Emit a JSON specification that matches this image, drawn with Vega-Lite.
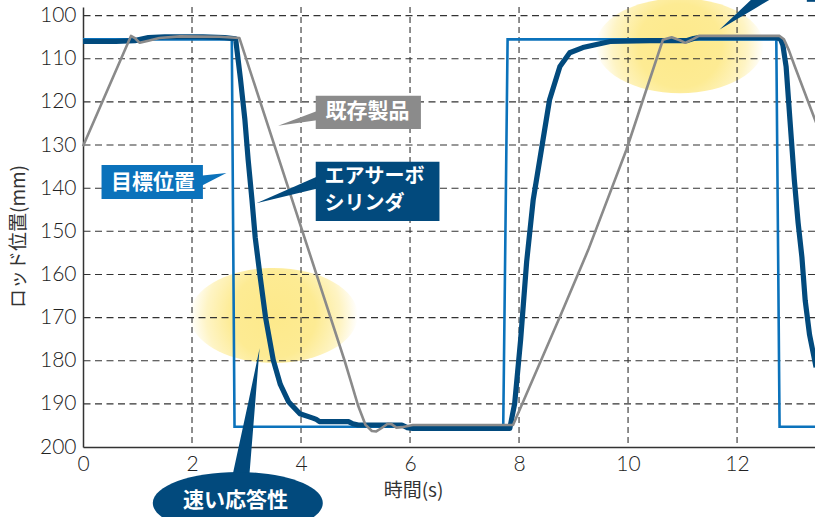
{
  "$schema": "https://vega.github.io/schema/vega-lite/v6.json",
  "width": 732,
  "height": 440,
  "autosize": {"type": "none"},
  "padding": {"left": 83, "top": 7, "right": 0, "bottom": 70},
  "background": "white",
  "config": {"view": {"stroke": null}},
  "datasets": {
    "lines": [
      {"series": "目標位置", "t": 0, "pos": 105.5},
      {"series": "目標位置", "t": 2.73, "pos": 105.5},
      {"series": "目標位置", "t": 2.78, "pos": 195.3},
      {"series": "目標位置", "t": 7.71, "pos": 195.3},
      {"series": "目標位置", "t": 7.79, "pos": 105.5},
      {"series": "目標位置", "t": 12.72, "pos": 105.5},
      {"series": "目標位置", "t": 12.78, "pos": 195.3},
      {"series": "目標位置", "t": 13.6, "pos": 195.3},

      {"series": "エアサーボシリンダ", "t": 0, "pos": 106.0},
      {"series": "エアサーボシリンダ", "t": 0.6, "pos": 106.0},
      {"series": "エアサーボシリンダ", "t": 0.95, "pos": 105.8},
      {"series": "エアサーボシリンダ", "t": 1.2, "pos": 105.1},
      {"series": "エアサーボシリンダ", "t": 1.5, "pos": 104.9},
      {"series": "エアサーボシリンダ", "t": 2.2, "pos": 104.9},
      {"series": "エアサーボシリンダ", "t": 2.6, "pos": 105.1},
      {"series": "エアサーボシリンダ", "t": 2.8, "pos": 105.4},
      {"series": "エアサーボシリンダ", "t": 2.89, "pos": 114.8},
      {"series": "エアサーボシリンダ", "t": 2.97, "pos": 124.1},
      {"series": "エアサーボシリンダ", "t": 3.03, "pos": 133.4},
      {"series": "エアサーボシリンダ", "t": 3.1, "pos": 142.7},
      {"series": "エアサーボシリンダ", "t": 3.16, "pos": 151.5},
      {"series": "エアサーボシリンダ", "t": 3.25, "pos": 160.5},
      {"series": "エアサーボシリンダ", "t": 3.35, "pos": 170.0},
      {"series": "エアサーボシリンダ", "t": 3.49, "pos": 179.8},
      {"series": "エアサーボシリンダ", "t": 3.62, "pos": 185.5},
      {"series": "エアサーボシリンダ", "t": 3.77, "pos": 189.5},
      {"series": "エアサーボシリンダ", "t": 3.98, "pos": 192.3},
      {"series": "エアサーボシリンダ", "t": 4.22, "pos": 193.3},
      {"series": "エアサーボシリンダ", "t": 4.28, "pos": 193.6},
      {"series": "エアサーボシリンダ", "t": 4.34, "pos": 194.1},
      {"series": "エアサーボシリンダ", "t": 4.87, "pos": 194.1},
      {"series": "エアサーボシリンダ", "t": 4.95, "pos": 194.6},
      {"series": "エアサーボシリンダ", "t": 5.05, "pos": 194.9},
      {"series": "エアサーボシリンダ", "t": 5.85, "pos": 194.9},
      {"series": "エアサーボシリンダ", "t": 5.95, "pos": 195.5},
      {"series": "エアサーボシリンダ", "t": 6.05, "pos": 195.7},
      {"series": "エアサーボシリンダ", "t": 7.83, "pos": 195.7},
      {"series": "エアサーボシリンダ", "t": 7.92, "pos": 189.9},
      {"series": "エアサーボシリンダ", "t": 8.03, "pos": 175.0},
      {"series": "エアサーボシリンダ", "t": 8.14, "pos": 157.0},
      {"series": "エアサーボシリンダ", "t": 8.26, "pos": 142.7},
      {"series": "エアサーボシリンダ", "t": 8.41, "pos": 131.1},
      {"series": "エアサーボシリンダ", "t": 8.56, "pos": 119.5},
      {"series": "エアサーボシリンダ", "t": 8.75, "pos": 111.8},
      {"series": "エアサーボシリンダ", "t": 8.93, "pos": 108.6},
      {"series": "エアサーボシリンダ", "t": 9.17, "pos": 107.4},
      {"series": "エアサーボシリンダ", "t": 9.67, "pos": 106.0},
      {"series": "エアサーボシリンダ", "t": 10.4, "pos": 105.8},
      {"series": "エアサーボシリンダ", "t": 11.07, "pos": 105.8},
      {"series": "エアサーボシリンダ", "t": 11.2, "pos": 105.3},
      {"series": "エアサーボシリンダ", "t": 11.3, "pos": 105.1},
      {"series": "エアサーボシリンダ", "t": 12.72, "pos": 105.1},
      {"series": "エアサーボシリンダ", "t": 12.8, "pos": 105.5},
      {"series": "エアサーボシリンダ", "t": 12.84, "pos": 106.8},
      {"series": "エアサーボシリンダ", "t": 12.9, "pos": 111.8},
      {"series": "エアサーボシリンダ", "t": 12.97, "pos": 124.1},
      {"series": "エアサーボシリンダ", "t": 13.05, "pos": 138.0},
      {"series": "エアサーボシリンダ", "t": 13.12, "pos": 148.0},
      {"series": "エアサーボシリンダ", "t": 13.19, "pos": 156.0},
      {"series": "エアサーボシリンダ", "t": 13.25, "pos": 166.0},
      {"series": "エアサーボシリンダ", "t": 13.33, "pos": 174.0},
      {"series": "エアサーボシリンダ", "t": 13.45, "pos": 181.5},

      {"series": "既存製品", "t": 0, "pos": 130.3},
      {"series": "既存製品", "t": 0.88, "pos": 104.7},
      {"series": "既存製品", "t": 0.96, "pos": 105.3},
      {"series": "既存製品", "t": 1.04, "pos": 106.3},
      {"series": "既存製品", "t": 1.2, "pos": 105.8},
      {"series": "既存製品", "t": 1.4, "pos": 105.2},
      {"series": "既存製品", "t": 1.78, "pos": 104.8},
      {"series": "既存製品", "t": 2.5, "pos": 104.9},
      {"series": "既存製品", "t": 2.87, "pos": 105.2},
      {"series": "既存製品", "t": 4.8, "pos": 180.0},
      {"series": "既存製品", "t": 4.92, "pos": 185.0},
      {"series": "既存製品", "t": 5.05, "pos": 190.5},
      {"series": "既存製品", "t": 5.18, "pos": 194.8},
      {"series": "既存製品", "t": 5.3, "pos": 196.3},
      {"series": "既存製品", "t": 5.38, "pos": 196.4},
      {"series": "既存製品", "t": 5.48, "pos": 195.6},
      {"series": "既存製品", "t": 5.59, "pos": 194.6},
      {"series": "既存製品", "t": 5.66, "pos": 194.7},
      {"series": "既存製品", "t": 5.75, "pos": 195.5},
      {"series": "既存製品", "t": 5.85, "pos": 195.4},
      {"series": "既存製品", "t": 6.05, "pos": 194.9},
      {"series": "既存製品", "t": 7.89, "pos": 194.9},
      {"series": "既存製品", "t": 8.75, "pos": 169.8},
      {"series": "既存製品", "t": 9.27, "pos": 154.3},
      {"series": "既存製品", "t": 9.97, "pos": 131.1},
      {"series": "既存製品", "t": 10.64, "pos": 105.6},
      {"series": "既存製品", "t": 10.8, "pos": 105.0},
      {"series": "既存製品", "t": 10.95, "pos": 105.7},
      {"series": "既存製品", "t": 11.05, "pos": 106.3},
      {"series": "既存製品", "t": 11.2, "pos": 105.4},
      {"series": "既存製品", "t": 11.3, "pos": 104.7},
      {"series": "既存製品", "t": 12.78, "pos": 104.7},
      {"series": "既存製品", "t": 12.86, "pos": 105.5},
      {"series": "既存製品", "t": 12.95, "pos": 108.0},
      {"series": "既存製品", "t": 13.06, "pos": 111.8},
      {"series": "既存製品", "t": 13.36, "pos": 121.8},
      {"series": "既存製品", "t": 13.45, "pos": 124.8}
    ],
    "glow": [
      {"spot": "速い応答性", "t": 3.5, "pos": 169.5},
      {"spot": "安定性", "t": 10.95, "pos": 107.0}
    ],
    "gridH": [
      {"pos": 100}, {"pos": 110}, {"pos": 120}, {"pos": 130}, {"pos": 140},
      {"pos": 150}, {"pos": 160}, {"pos": 170}, {"pos": 180}, {"pos": 190}
    ],
    "gridV": [
      {"t": 2}, {"t": 4}, {"t": 6}, {"t": 8}, {"t": 10}, {"t": 12}
    ],
    "wedges": [
      {"label": "既存製品", "t": 3.58, "pos": 125.5, "pos2": 125.5},
      {"label": "既存製品", "t": 4.32, "pos": 122.0, "pos2": 124.2},
      {"label": "エアサーボシリンダ", "t": 3.18, "pos": 143.5, "pos2": 143.5},
      {"label": "エアサーボシリンダ", "t": 4.32, "pos": 137.2, "pos2": 140.0},
      {"label": "目標位置", "t": 2.15, "pos": 137.1, "pos2": 139.6},
      {"label": "目標位置", "t": 2.63, "pos": 136.5, "pos2": 136.5},
      {"label": "速い応答性", "t": 2.71, "pos": 208.5, "pos2": 208.5},
      {"label": "速い応答性", "t": 3.04, "pos": 189.2, "pos2": 208.5},
      {"label": "速い応答性", "t": 3.24, "pos": 177.1, "pos2": 177.1},
      {"label": "右上", "t": 11.68, "pos": 103.2, "pos2": 103.2},
      {"label": "右上", "t": 12.36, "pos": 95.1, "pos2": 98.1},
      {"label": "右上", "t": 12.76, "pos": 95.1, "pos2": 95.1}
    ],
    "boxes": [
      {"label": "既存製品", "t": 4.27, "t2": 6.2, "pos": 118.6, "pos2": 126.3},
      {"label": "エアサーボシリンダ", "t": 4.27, "t2": 6.54, "pos": 133.9, "pos2": 147.6},
      {"label": "目標位置", "t": 0.34, "t2": 2.2, "pos": 134.6, "pos2": 142.5},
      {"label": "右上", "t": 13.28, "t2": 13.7, "pos": 90.0, "pos2": 96.8}
    ],
    "bubble": [
      {"label": "速い応答性", "t": 2.84, "pos": 213.0}
    ],
    "textCenter": [
      {"text": "既存製品", "t": 5.22, "pos": 122.4},
      {"text": "目標位置", "t": 1.285, "pos": 138.9},
      {"text": "速い応答性", "t": 2.8, "pos": 212.6}
    ],
    "textLeft": [
      {"text": "エアサーボ", "t": 4.43, "pos": 137.4},
      {"text": "シリンダ", "t": 4.43, "pos": 143.6}
    ]
  },
  "layer": [
    {
      "data": {"name": "glow"},
      "mark": {
        "type": "point",
        "filled": true,
        "opacity": 1,
        "strokeWidth": 0,
        "size": 28224,
        "shape": "M-1,0C-1,-0.312,-0.552,-0.565,0,-0.565C0.552,-0.565,1,-0.312,1,0C1,0.312,0.552,0.565,0,0.565C-0.552,0.565,-1,0.312,-1,0Z",
        "fill": {
          "gradient": "radial",
          "x1": 0.5, "y1": 0.5, "r1": 0,
          "x2": 0.5, "y2": 0.5, "r2": 0.5,
          "stops": [
            {"offset": 0, "color": "#fde98b"},
            {"offset": 0.5, "color": "#fdeb93"},
            {"offset": 0.8, "color": "#fef4c4"},
            {"offset": 1, "color": "#ffffff"}
          ]
        }
      },
      "encoding": {
        "x": {"field": "t", "type": "quantitative", "scale": {"domain": [0, 13.43], "nice": false, "zero": false},
          "axis": {"values": [0, 2, 4, 6, 8, 10, 12], "format": "d", "grid": false, "ticks": false, "domainColor": "#333333", "domainWidth": 1.5,
            "labelFont": "Lato", "labelFontWeight": 300, "labelFontSize": 21, "labelColor": "#222222", "labelPadding": 6, "labelFlush": false,
            "titleFont": "Noto Sans CJK JP", "titleFontSize": 19, "titleFontWeight": "normal", "titleColor": "#333333",
            "titleX": 330, "titleY": 43, "titleBaseline": "middle", "titleAlign": "center"},
          "title": "時間(s)"},
        "y": {"field": "pos", "type": "quantitative", "scale": {"domain": [98, 200], "reverse": true, "nice": false, "zero": false},
          "axis": {"values": [100, 110, 120, 130, 140, 150, 160, 170, 180, 190, 200], "format": "d", "grid": false, "ticks": false, "domainColor": "#333333", "domainWidth": 1.5,
            "labelFont": "Lato", "labelFontWeight": 300, "labelFontSize": 21, "labelColor": "#222222", "labelPadding": 7,
            "titleFont": "Noto Sans CJK JP", "titleFontSize": 19, "titleFontWeight": "normal", "titleColor": "#333333",
            "titleX": -65, "titleY": 229, "titleAngle": -90, "titleBaseline": "middle", "titleAlign": "center"},
          "title": "ロッド位置(mm)"}
      }
    },
    {
      "data": {"name": "gridH"},
      "mark": {"type": "rule", "color": "#333333", "strokeWidth": 1.1, "strokeDash": [7, 4.5]},
      "encoding": {
        "y": {"field": "pos", "type": "quantitative", "scale": {"domain": [98, 200], "reverse": true, "nice": false, "zero": false}, "title": "ロッド位置(mm)"}
      }
    },
    {
      "data": {"name": "gridV"},
      "mark": {"type": "rule", "color": "#333333", "strokeWidth": 1.1, "strokeDash": [6, 4]},
      "encoding": {
        "x": {"field": "t", "type": "quantitative", "scale": {"domain": [0, 13.43], "nice": false, "zero": false}, "title": "時間(s)"}
      }
    },
    {
      "data": {"name": "lines"},
      "transform": [{"filter": "datum.series === '目標位置'"}],
      "mark": {"type": "line", "color": "#0b72bb", "strokeWidth": 2.6, "strokeJoin": "miter"},
      "encoding": {
        "x": {"field": "t", "type": "quantitative", "scale": {"domain": [0, 13.43], "nice": false, "zero": false}, "title": "時間(s)"},
        "y": {"field": "pos", "type": "quantitative", "scale": {"domain": [98, 200], "reverse": true, "nice": false, "zero": false}, "title": "ロッド位置(mm)"}
      }
    },
    {
      "data": {"name": "lines"},
      "transform": [{"filter": "datum.series === 'エアサーボシリンダ'"}],
      "mark": {"type": "line", "color": "#024a7d", "strokeWidth": 5.2, "strokeJoin": "round"},
      "encoding": {
        "x": {"field": "t", "type": "quantitative", "scale": {"domain": [0, 13.43], "nice": false, "zero": false}, "title": "時間(s)"},
        "y": {"field": "pos", "type": "quantitative", "scale": {"domain": [98, 200], "reverse": true, "nice": false, "zero": false}, "title": "ロッド位置(mm)"}
      }
    },
    {
      "data": {"name": "lines"},
      "transform": [{"filter": "datum.series === '既存製品'"}],
      "mark": {"type": "line", "color": "#8a8a8a", "strokeWidth": 2.6, "strokeJoin": "round"},
      "encoding": {
        "x": {"field": "t", "type": "quantitative", "scale": {"domain": [0, 13.43], "nice": false, "zero": false}, "title": "時間(s)"},
        "y": {"field": "pos", "type": "quantitative", "scale": {"domain": [98, 200], "reverse": true, "nice": false, "zero": false}, "title": "ロッド位置(mm)"}
      }
    },
    {
      "data": {"name": "wedges"},
      "mark": {"type": "area", "opacity": 1, "interpolate": "linear"},
      "encoding": {
        "x": {"field": "t", "type": "quantitative", "scale": {"domain": [0, 13.43], "nice": false, "zero": false}, "title": "時間(s)"},
        "y": {"field": "pos", "type": "quantitative", "stack": null, "scale": {"domain": [98, 200], "reverse": true, "nice": false, "zero": false}, "title": "ロッド位置(mm)"},
        "y2": {"field": "pos2"},
        "color": {"field": "label", "type": "nominal", "legend": null,
          "scale": {"domain": ["既存製品", "エアサーボシリンダ", "目標位置", "速い応答性", "右上"], "range": ["#8b8b8b", "#024a7d", "#0b72bb", "#024a7d", "#024a7d"]}}
      }
    },
    {
      "data": {"name": "boxes"},
      "mark": {"type": "rect", "opacity": 1},
      "encoding": {
        "x": {"field": "t", "type": "quantitative", "scale": {"domain": [0, 13.43], "nice": false, "zero": false}, "title": "時間(s)"},
        "x2": {"field": "t2"},
        "y": {"field": "pos", "type": "quantitative", "scale": {"domain": [98, 200], "reverse": true, "nice": false, "zero": false}, "title": "ロッド位置(mm)"},
        "y2": {"field": "pos2"},
        "color": {"field": "label", "type": "nominal", "legend": null,
          "scale": {"domain": ["既存製品", "エアサーボシリンダ", "目標位置", "速い応答性", "右上"], "range": ["#8b8b8b", "#024a7d", "#0b72bb", "#024a7d", "#024a7d"]}}
      }
    },
    {
      "data": {"name": "bubble"},
      "mark": {
        "type": "point", "filled": true, "opacity": 1, "strokeWidth": 0, "size": 28900,
        "shape": "M-1,0C-1,-0.202,-0.552,-0.365,0,-0.365C0.552,-0.365,1,-0.202,1,0C1,0.202,0.552,0.365,0,0.365C-0.552,0.365,-1,0.202,-1,0Z"
      },
      "encoding": {
        "x": {"field": "t", "type": "quantitative", "scale": {"domain": [0, 13.43], "nice": false, "zero": false}, "title": "時間(s)"},
        "y": {"field": "pos", "type": "quantitative", "scale": {"domain": [98, 200], "reverse": true, "nice": false, "zero": false}, "title": "ロッド位置(mm)"},
        "color": {"field": "label", "type": "nominal", "legend": null,
          "scale": {"domain": ["既存製品", "エアサーボシリンダ", "目標位置", "速い応答性", "右上"], "range": ["#8b8b8b", "#024a7d", "#0b72bb", "#024a7d", "#024a7d"]}}
      }
    },
    {
      "data": {"name": "textCenter"},
      "mark": {"type": "text", "align": "center", "baseline": "middle", "font": "Noto Sans CJK JP", "fontWeight": "bold", "fontSize": 21, "color": "#ffffff"},
      "encoding": {
        "x": {"field": "t", "type": "quantitative", "scale": {"domain": [0, 13.43], "nice": false, "zero": false}, "title": "時間(s)"},
        "y": {"field": "pos", "type": "quantitative", "scale": {"domain": [98, 200], "reverse": true, "nice": false, "zero": false}, "title": "ロッド位置(mm)"},
        "text": {"field": "text", "type": "nominal"}
      }
    },
    {
      "data": {"name": "textLeft"},
      "mark": {"type": "text", "align": "left", "baseline": "middle", "font": "Noto Sans CJK JP", "fontWeight": "bold", "fontSize": 20, "color": "#ffffff"},
      "encoding": {
        "x": {"field": "t", "type": "quantitative", "scale": {"domain": [0, 13.43], "nice": false, "zero": false}, "title": "時間(s)"},
        "y": {"field": "pos", "type": "quantitative", "scale": {"domain": [98, 200], "reverse": true, "nice": false, "zero": false}, "title": "ロッド位置(mm)"},
        "text": {"field": "text", "type": "nominal"}
      }
    }
  ]
}
